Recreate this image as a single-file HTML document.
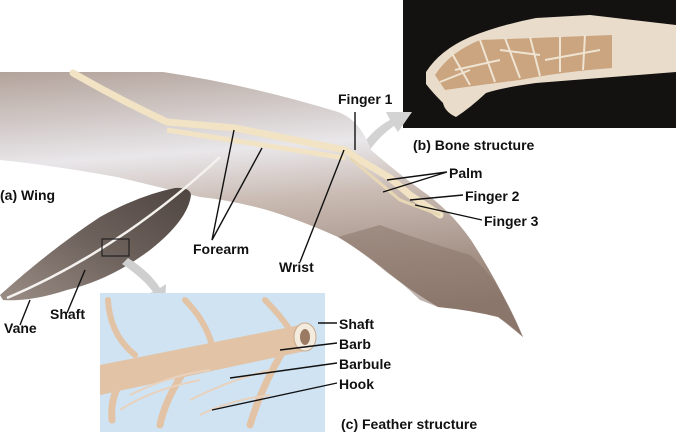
<!DOCTYPE html>
<html><head><meta charset="utf-8"><style>
body{margin:0;background:#fff}
svg{display:block}
text{font-family:"Liberation Sans",Arial,sans-serif;font-weight:bold;font-size:14px;fill:#111}
</style></head><body>
<svg width="676" height="432" viewBox="0 0 676 432">
<defs>
<linearGradient id="wg" x1="0" y1="0" x2="0.15" y2="1">
<stop offset="0" stop-color="#b3a39b"/><stop offset="0.35" stop-color="#e9e7ea"/><stop offset="0.55" stop-color="#c9bab2"/><stop offset="1" stop-color="#8a7568"/>
</linearGradient>
<linearGradient id="fg" x1="0" y1="1" x2="1" y2="0">
<stop offset="0" stop-color="#9a8d86"/><stop offset="0.5" stop-color="#6e625c"/><stop offset="1" stop-color="#4f4541"/>
</linearGradient>
</defs>
<rect x="403" y="0" width="273" height="128" fill="#141210"/>
<path d="M426,72 Q440,50 470,37 Q500,25 536,18 L590,15 L676,25 L676,72 L536,83 Q500,88 486,93 Q470,108 456,117 Q445,112 443,103 Q432,92 426,84 Z" fill="#e9dccb"/>
<path d="M435,75 Q450,52 480,40 L612,35 L612,68 Q560,72 520,80 Q480,85 445,90 Z" fill="#cba57f"/>
<g stroke="#efe3d2" stroke-width="2" fill="none">
<path d="M450,50 L470,85 M480,40 L495,82 M505,38 L520,78 M530,37 L540,76 M560,36 L560,72 M585,35 L583,70 M455,70 L500,60 M500,50 L540,55 M545,60 L600,50 M440,82 L470,70"/>
</g>
<path d="M352,160 Q370,130 390,120 L386,112 L412,112 L398,132 L394,126 Q376,138 362,162 Z" fill="#d3d3d3"/>
<path d="M0,72 L163,72 Q250,85 338,112 Q360,120 371,150 Q400,175 421,190 Q450,210 471,240 Q500,285 523,337 Q510,325 498,317 Q470,310 438,307 Q410,290 388,273 Q360,250 338,237 Q300,220 267,210 Q230,200 200,197 Q150,185 117,177 Q50,165 0,160 Z" fill="url(#wg)"/>
<path d="M338,237 Q380,262 420,300 L438,307 Q470,310 498,317 L523,337 Q500,280 470,255 Q420,240 380,225 Z" fill="#8b776b" opacity="0.55"/>
<path d="M73,73 Q120,100 167,122 L235,128 L345,150 L360,160 L390,178 L410,195 L440,215" stroke="#f1e3c4" stroke-width="7" fill="none" stroke-linecap="round"/>
<path d="M167,130 L345,158" stroke="#f1e3c4" stroke-width="5" fill="none"/>
<path d="M350,158 L400,200 L440,215" stroke="#e8d7b4" stroke-width="3" fill="none"/>
<path d="M0,295 Q50,250 100,217 Q140,195 175,188 Q190,187 191,195 Q188,220 150,250 Q110,280 67,290 Q30,302 3,300 Z" fill="url(#fg)"/>
<path d="M7,298 Q120,250 220,157" stroke="#f4f1ee" stroke-width="2.5" fill="none"/>
<rect x="102" y="239" width="27" height="17" fill="none" stroke="#222" stroke-width="1.2"/>
<path d="M128,258 Q150,272 160,288 L166,284 L165,304 L146,294 L153,292 Q143,278 122,264 Z" fill="#cfcfcf"/>
<rect x="100" y="293" width="225" height="139" fill="#cfe3f2"/>
<g stroke="#e2c3a6" stroke-width="6" fill="none" stroke-linecap="round">
<path d="M108,300 Q110,335 135,355"/><path d="M185,300 Q205,320 212,345"/><path d="M265,300 Q280,315 290,330"/>
</g>
<path d="M100,365 L300,325 L310,350 L100,395 Z" fill="#e2c3a6"/>
<ellipse cx="305" cy="337" rx="11" ry="14" fill="#f3ecde" stroke="#c9a98c"/>
<ellipse cx="305" cy="337" rx="5" ry="8" fill="#9a7a62"/>
<g stroke="#e2c3a6" stroke-width="7" fill="none" stroke-linecap="round">
<path d="M185,370 Q165,400 160,425"/><path d="M285,348 Q262,385 250,425"/><path d="M120,383 Q110,400 112,420"/>
</g>
<g stroke="#e8d2bd" stroke-width="2" fill="none">
<path d="M120,410 Q150,390 200,380"/><path d="M190,400 Q230,380 270,370"/><path d="M130,395 Q170,375 210,370"/><path d="M200,415 Q230,400 270,395"/>
</g>
<g stroke="#111" stroke-width="1.4" fill="none">
<path d="M355,112 L355,150"/>
<path d="M234,130 L212,240 L262,148"/>
<path d="M344,150 L300,262"/>
<path d="M447,172 L387,180 M447,172 L383,192"/>
<path d="M463,195 L410,200"/>
<path d="M482,220 L415,205"/>
<path d="M20,325 L30,300"/>
<path d="M67,313 L85,270"/>
<path d="M337,323 L318,323"/>
<path d="M337,343 L280,350"/>
<path d="M337,363 L230,378"/>
<path d="M337,383 L212,410"/>
</g>
<text x="338" y="104">Finger 1</text>
<text x="413" y="150">(b) Bone structure</text>
<text x="449" y="178">Palm</text>
<text x="465" y="201">Finger 2</text>
<text x="484" y="226">Finger 3</text>
<text x="0" y="200">(a) Wing</text>
<text x="193" y="254">Forearm</text>
<text x="279" y="272">Wrist</text>
<text x="4" y="333">Vane</text>
<text x="50" y="319">Shaft</text>
<text x="339" y="329">Shaft</text>
<text x="339" y="349">Barb</text>
<text x="339" y="369">Barbule</text>
<text x="339" y="389">Hook</text>
<text x="341" y="429">(c) Feather structure</text>
</svg>
</body></html>
